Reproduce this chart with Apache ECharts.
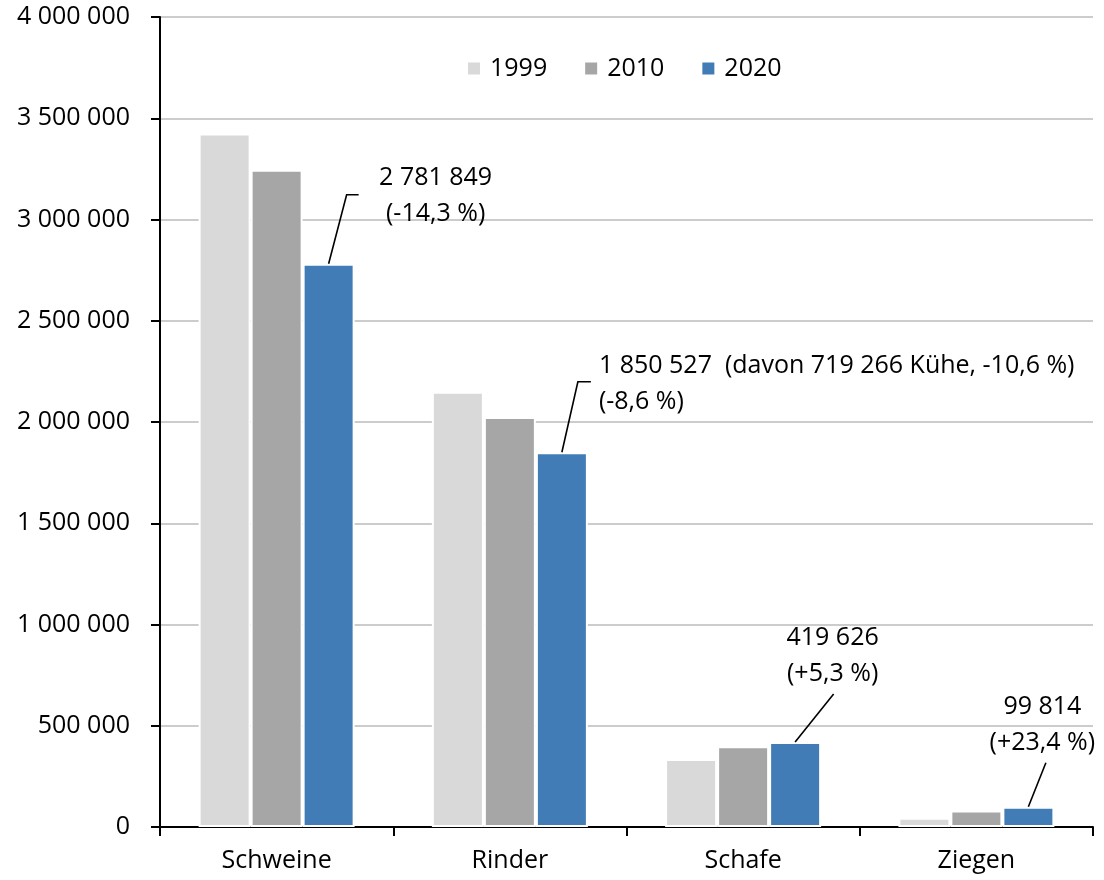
<!DOCTYPE html>
<html>
<head>
<meta charset="utf-8">
<script src="https://cdn.jsdelivr.net/npm/echarts@6/dist/echarts.min.js"></script>
<style>
html,body{margin:0;padding:0;background:#fff;}
#chart{width:1104px;height:880px;}
</style>
</head>
<body>
<div id="chart"></div>
<script>
// ---- data ----
const categories = ['Schweine', 'Rinder', 'Schafe', 'Ziegen'];
const years = ['1999', '2010', '2020'];
const values1999 = [3425000, 2150000, 336000, 46000];
const values2010 = [3246000, 2024600, 398500, 80900];
const values2020 = [2781849, 1850527, 419626, 99814];
const yTicks = [0, 500000, 1000000, 1500000, 2000000, 2500000, 3000000, 3500000, 4000000];
const labelLine1 = ['2 781 849', '1 850 527  (davon 719 266 K\u00fche, -10,6 %)', '419 626', '99 814'];
const labelLine2 = ['(-14,3 %)', '(-8,6 %)', '(+5,3 %)', '(+23,4 %)'];

// ---- style ----
const FONT = 'Open Sans';
const FS = 25;
const colors = ['#d9d9d9', '#a6a6a6', '#417cb6'];
const BAR_W = 52;

function fmt(v) {
  return String(v).replace(/\B(?=(\d{3})+(?!\d))/g, ' ');
}

const seriesValues = [values1999, values2010, values2020];

const chart = echarts.init(document.getElementById('chart'), null, {renderer: 'canvas'});

const option = {
  animation: false,
  backgroundColor: '#ffffff',
  textStyle: {fontFamily: FONT},
  grid: {left: 160, right: 11, top: 17, bottom: 53, containLabel: false},
  legend: {
    data: years,
    left: 461,
    top: 51,
    itemWidth: 14,
    itemHeight: 14,
    itemGap: 36,
    icon: 'rect',
    textStyle: {fontFamily: FONT, fontSize: FS, color: '#000', padding: [0, 0, 0, 4]}
  },
  xAxis: {
    type: 'category',
    data: categories,
    boundaryGap: true,
    axisLine: {show: true, lineStyle: {color: '#000', width: 2}},
    axisTick: {show: true, length: 9, alignWithLabel: false, lineStyle: {color: '#000', width: 2}},
    axisLabel: {fontFamily: FONT, fontSize: FS, color: '#000', margin: 21},
    splitLine: {show: false}
  },
  yAxis: {
    type: 'value',
    min: yTicks[0],
    max: yTicks[yTicks.length - 1],
    interval: yTicks[1] - yTicks[0],
    axisLine: {show: true, lineStyle: {color: '#000', width: 2}},
    axisTick: {show: true, length: 9, inside: false, lineStyle: {color: '#000', width: 2}},
    axisLabel: {fontFamily: FONT, fontSize: FS, color: '#000', margin: 30, formatter: fmt},
    splitLine: {show: true, lineStyle: {color: '#cccccc', width: 2}}
  },
  series: years.map((y, i) => ({
    name: y,
    type: 'bar',
    data: seriesValues[i],
    barWidth: BAR_W,
    barGap: '0%',
    itemStyle: {color: colors[i], borderColor: '#ffffff', borderWidth: 2}
  }))
};

chart.setOption(option);

// ---- annotations for 2020 bars (leader lines + labels) ----
const annLayout = [
  {pts: [[0, 0], [18, -69], [30, -69]], tx: 107, align: 'center', y1: -86, y2: -50},
  {pts: [[0, 0], [16, -70.5], [29, -70.5]], tx: 37, align: 'left', y1: -86, y2: -50},
  {pts: [[0, 0], [38.5, -48]], tx: 37.5, align: 'center', y1: -104, y2: -68},
  {pts: [[0, 0], [17.5, -44]], tx: 14, align: 'center', y1: -100, y2: -64}
];

const graphics = [];
categories.forEach((c, i) => {
  const p = chart.convertToPixel({gridIndex: 0}, [i, values2020[i]]);
  const bx = p[0] + BAR_W; // third bar of the group
  const by = p[1];
  const L = annLayout[i];
  graphics.push({
    type: 'polyline',
    silent: true,
    z: 10,
    shape: {points: L.pts.map(q => [bx + q[0], by + q[1]])},
    style: {stroke: '#000', lineWidth: 1.6, fill: null}
  });
  graphics.push({
    type: 'text', silent: true, z: 10,
    x: bx + L.tx, y: by + L.y1,
    style: {text: labelLine1[i], fontFamily: FONT, fontSize: FS, fill: '#000', align: L.align, verticalAlign: 'middle'}
  });
  graphics.push({
    type: 'text', silent: true, z: 10,
    x: bx + L.tx, y: by + L.y2,
    style: {text: labelLine2[i], fontFamily: FONT, fontSize: FS, fill: '#000', align: L.align, verticalAlign: 'middle'}
  });
});
chart.setOption({graphic: graphics});
</script>
</body>
</html>
